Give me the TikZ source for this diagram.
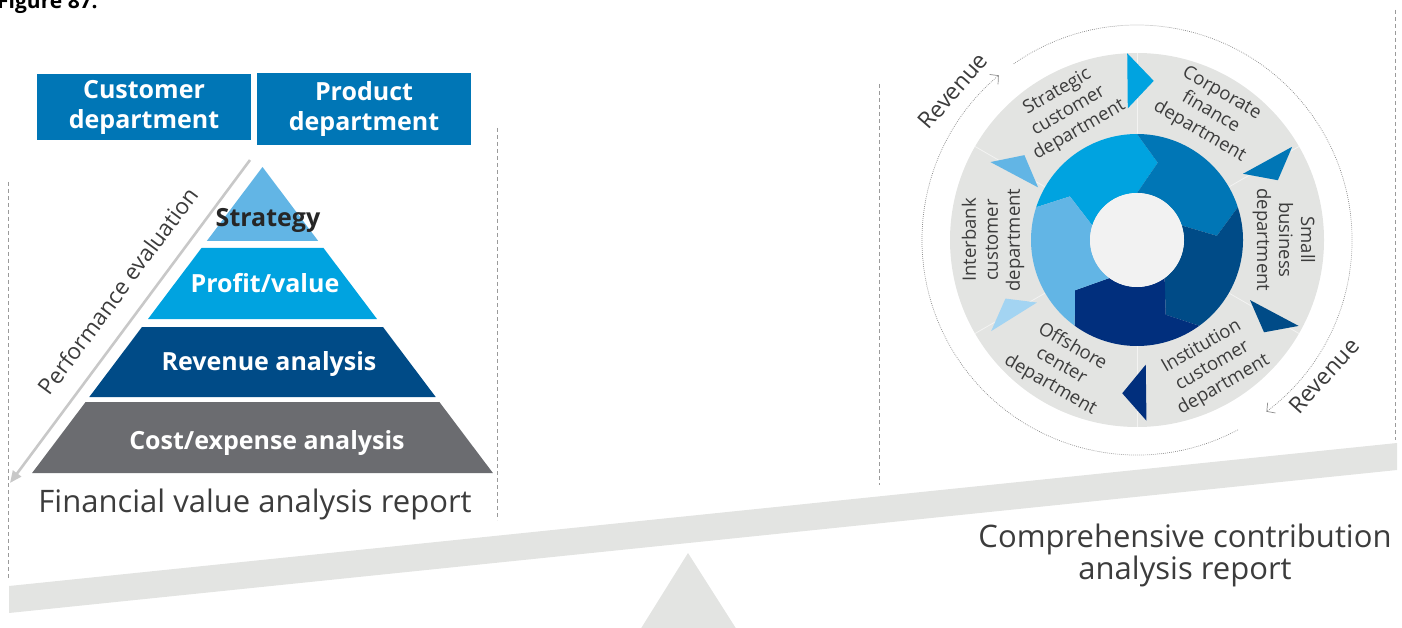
\documentclass[tikz,border=0pt]{standalone}
\usepackage{fontspec}
\setmainfont{Open Sans}
\usetikzlibrary{arrows.meta}
\definecolor{boxblue}{HTML}{0076B6}
\definecolor{pyrA}{HTML}{62B5E5}
\definecolor{pyrB}{HTML}{00A3E0}
\definecolor{pyrC}{HTML}{004B87}
\definecolor{pyrD}{HTML}{6B6C70}
\definecolor{wnavy}{HTML}{012F7D}
\definecolor{wlightest}{HTML}{A3D4F2}
\definecolor{ringgray}{HTML}{E3E4E2}
\definecolor{centergray}{HTML}{F2F2F2}
\definecolor{txtgray}{HTML}{3C3C3C}
\definecolor{dashgray}{HTML}{9A9A9A}
\definecolor{perfgray}{HTML}{C8C8C8}
\definecolor{arcgray}{HTML}{8C8C8C}
\tikzset{
  deptbox/.style={fill=boxblue, text=white, font=\bfseries\fontsize{25}{30}\selectfont, align=center, inner sep=0pt},
  pyrtext/.style={font=\bfseries\fontsize{25}{28}\selectfont, text=white, inner sep=0pt},
  sepline/.style={draw=dashgray, line width=0.8pt, dash pattern=on 4pt off 3pt},
  deptlabel/.style={font=\fontsize{18.5}{22}\selectfont, text=txtgray, align=center, inner sep=0pt},
  revarc/.style={draw=arcgray, line width=0.7pt, dash pattern=on 0.8pt off 1.2pt, -{Straight Barb[length=6pt,width=13pt]}},
  revlabel/.style={font=\fontsize{23}{25}\selectfont, text=txtgray, inner sep=0pt},
  bigcaption/.style={font=\fontsize{31}{30}\selectfont, text=txtgray, align=center, inner sep=0pt},
}
\begin{document}
\begin{tikzpicture}[x=1pt,y=-1pt]
\useasboundingbox (0,0) rectangle (1402,628);

% beam and fulcrum
\fill[ringgray] (9,586) -- (1397,443) -- (1397,470) -- (9,613) -- cycle;
\fill[ringgray] (688,553) -- (737,630) -- (640,630) -- cycle;

% dashed separators
\coordinate (d1a) at (8,182);   \coordinate (d1b) at (8,578);
\coordinate (d2a) at (497,128); \coordinate (d2b) at (497,520);
\coordinate (d3a) at (879,84);  \coordinate (d3b) at (879,485);
\coordinate (d4a) at (1395,10); \coordinate (d4b) at (1395,440);
\draw[sepline] (d1a) -- (d1b);
\draw[sepline] (d2a) -- (d2b);
\draw[sepline] (d3a) -- (d3b);
\draw[sepline] (d4a) -- (d4b);

% figure label
\node[anchor=base west, font=\bfseries\fontsize{21}{24}\selectfont, text=black, inner sep=0pt] (fig) at (-3,9) {Figure 87.};

% department boxes
\node[deptbox, minimum width=214pt, minimum height=66pt] (cust) at (144,107) {Customer\\department};
\node[deptbox, minimum width=214pt, minimum height=72pt] (prod) at (364,109) {Product\\department};

% pyramid
\fill[pyrA] (262.5,167) -- (318.2,241) -- (206.8,241) -- cycle;
\fill[pyrB] (201.5,248) -- (323.5,248) -- (377,319) -- (148,319) -- cycle;
\fill[pyrC] (142,327) -- (383,327) -- (435.7,397) -- (89.3,397) -- cycle;
\fill[pyrD] (85.6,402) -- (439.4,402) -- (492.9,473) -- (32.1,473) -- cycle;
\node[pyrtext, text=black!85] (strat) at (268,220) {Strategy};
\node[pyrtext] (profit) at (265,283) {Profit/value};
\node[pyrtext] (rev) at (269,364) {Revenue analysis};
\node[pyrtext] (cost) at (267,443) {Cost/expense analysis};

% performance evaluation arrow
\coordinate (pa) at (250,160);
\coordinate (pb) at (10,483);
\draw[perfgray, line width=2.6pt, -{Triangle[length=12pt,width=10pt]}] (pa) -- (pb);
\node[rotate=53.4, font=\fontsize{22.5}{24}\selectfont, text=txtgray, inner sep=0pt] (perf) at (118,291) {Performance evaluation};

% captions
\node[bigcaption] (fin) at (255,504) {Financial value analysis report};
\node[bigcaption] (comp) at (1185,555) {Comprehensive contribution\\analysis report};

% wheel
\begin{scope}[shift={(1137,240)}, yscale=-1]
  \fill[ringgray] (0,0) circle[radius=187];
  \foreach \a in {90,30,-30,-90,-150,150}{
    \draw[white!55!ringgray, line width=0.8pt] (\a:106) -- (\a:187);
  }
  \foreach \s/\c in {162/pyrB, 90/boxblue, 18/pyrC, -54/wnavy, -126/pyrA}{
    \fill[\c] (\s:106) arc[start angle=\s, end angle=\s-72, radius=106]
      -- ({\s-87}:80) -- ({\s-72}:47)
      arc[start angle=\s-72, end angle=\s, radius=47]
      -- ({\s-15}:80) -- cycle;
  }
  \fill[centergray] (0,0) circle[radius=47];
  % pointer triangles
  \fill[pyrB] (93:187) -- (84:160) -- (94:132) -- cycle;
  \fill[boxblue] (31:181) -- (23:153) -- (32:125) -- cycle;
  \fill[pyrC] (-28:183) -- (-36:157) -- (-28:128) -- cycle;
  \fill[wnavy] (-87:181) -- (-95.5:154) -- (-86:125) -- cycle;
  \fill[wlightest] (-148:172) -- (-156:144) -- (-148:118) -- cycle;
  \fill[pyrA] (152:166) -- (143:141) -- (152:112) -- cycle;
  % labels
  \node[deptlabel, rotate=30] (strategic) at (118:146) {Strategic\\customer\\department};
  \node[deptlabel, rotate=-30] (corporate) at (60:147) {Corporate\\finance\\department};
  \node[deptlabel, rotate=-90] (small) at (0:147) {Small\\business\\department};
  \node[deptlabel, rotate=30] (institution) at (-59:147) {Institution\\customer\\department};
  \node[deptlabel, rotate=-30] (offshore) at (-121:147) {Offshore\\center\\department};
  \node[deptlabel, rotate=90] (interbank) at (180:144) {Interbank\\customer\\department};
  % revenue arcs
  \coordinate (arcAstart) at (-62:215);
  \coordinate (arcBstart) at (125:215);
  \draw[revarc] (arcAstart) arc[start angle=-62, end angle=-230, radius=215];
  \draw[revarc] (arcBstart) arc[start angle=125, end angle=-53, radius=215];
  \node[revlabel, rotate=49] (rev1) at (141:237) {Revenue};
  \node[revlabel, rotate=48] (rev2) at (-36:231) {Revenue};
\end{scope}
\end{tikzpicture}
\end{document}
